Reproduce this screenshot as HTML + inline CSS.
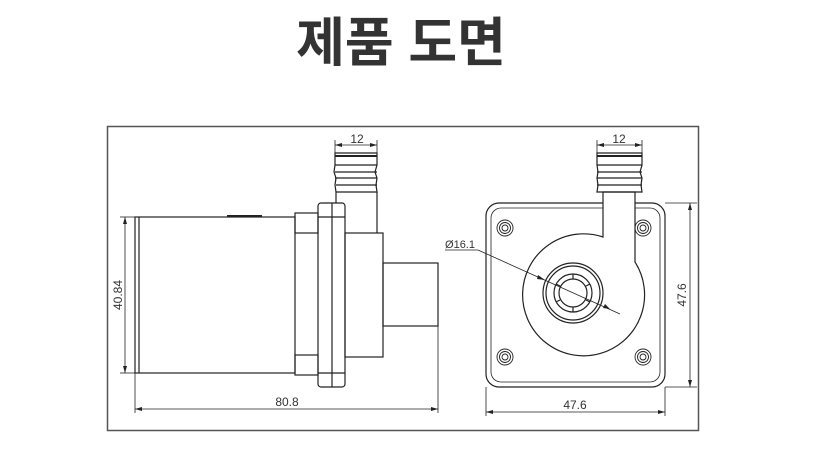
<!DOCTYPE html>
<html><head><meta charset="utf-8"><style>
body{margin:0;background:#fff;width:829px;height:449px;overflow:hidden}
svg{display:block}
</style></head><body>
<svg width="829" height="449" viewBox="0 0 829 449" xmlns="http://www.w3.org/2000/svg">
<text x="401" y="61" text-anchor="middle" font-family="'Liberation Sans','Noto Sans CJK KR',sans-serif" font-size="53" font-weight="bold" fill="#333">제품 도면</text>
<rect x="107.5" y="126.5" width="591" height="304" fill="none" stroke="#555" stroke-width="1.5"/>
<g fill="none" stroke="#222" stroke-width="1.2">
<rect x="135" y="217" width="160" height="156"/>
<line x1="139" y1="217" x2="139" y2="373"/>
<line x1="227" y1="216" x2="262" y2="216" stroke-width="2"/>
<rect x="295" y="213" width="23" height="20"/>
<rect x="295" y="355" width="23" height="20"/>
<rect x="318" y="203" width="27" height="184" rx="3"/>
<line x1="332" y1="203" x2="332" y2="387"/>
<line x1="318" y1="217" x2="345" y2="217"/>
<line x1="318" y1="373" x2="345" y2="373"/>
<rect x="345" y="233" width="38" height="124"/>
<rect x="383" y="263" width="55" height="63"/>
<line x1="336" y1="192" x2="336" y2="203"/>
<line x1="377" y1="192" x2="377" y2="233"/>
<path d="M335 153 H377 V165 L375 172 L377 178 L376 185 L377 192 H336 L335 185 L336 178 L334 172 L335 165 Z"/>
<line x1="335" y1="156" x2="377" y2="156" stroke-width="2"/>
<line x1="335" y1="165" x2="377" y2="165"/>
<line x1="335" y1="172" x2="377" y2="172"/>
<line x1="335" y1="178" x2="377" y2="178"/>
<line x1="336" y1="185" x2="377" y2="185"/>
<g stroke-width="0.8">
<line x1="335" y1="140" x2="335" y2="153"/><line x1="377" y1="140" x2="377" y2="153"/>
<line x1="335" y1="145" x2="377" y2="145"/>
<line x1="120" y1="217" x2="135" y2="217"/><line x1="120" y1="373" x2="135" y2="373"/>
<line x1="125" y1="217" x2="125" y2="373"/>
<line x1="135" y1="373" x2="135" y2="413"/><line x1="438" y1="326" x2="438" y2="413"/>
<line x1="135" y1="409" x2="438" y2="409"/>
</g>
<rect x="486" y="203" width="179" height="184" rx="13"/>
<rect x="491" y="208" width="169" height="174" rx="10" stroke-width="0.8"/>
<g stroke-width="0.9">
<circle cx="505" cy="228" r="8"/><circle cx="505" cy="228" r="5.5"/><circle cx="505" cy="228" r="3"/>
<circle cx="643" cy="228" r="8"/><circle cx="643" cy="228" r="5.5"/><circle cx="643" cy="228" r="3"/>
<circle cx="505" cy="357" r="8"/><circle cx="505" cy="357" r="5.5"/><circle cx="505" cy="357" r="3"/>
<circle cx="643" cy="357" r="8"/><circle cx="643" cy="357" r="5.5"/><circle cx="643" cy="357" r="3"/>
</g>
<path d="M603 237 A61 61 0 1 0 635 262 V192 H603 Z" fill="#fff"/>
<circle cx="573" cy="293" r="30"/><circle cx="573" cy="293" r="27"/>
<circle cx="573" cy="293" r="19"/><circle cx="573" cy="293" r="14"/>
<line x1="573" y1="274" x2="573" y2="279"/><line x1="573" y1="307" x2="573" y2="312"/>
<line x1="556" y1="284" x2="560" y2="286"/><line x1="590" y1="284" x2="586" y2="286"/>
<line x1="556" y1="302" x2="560" y2="300"/><line x1="590" y1="302" x2="586" y2="300"/>
<path d="M597 153 H642 V165 L640 172 L642 178 L641 185 L642 192 H597 L598 185 L597 178 L598 172 L597 165 Z"/>
<line x1="597" y1="156" x2="642" y2="156" stroke-width="2"/>
<line x1="597" y1="165" x2="642" y2="165"/>
<line x1="597" y1="172" x2="642" y2="172"/>
<line x1="597" y1="178" x2="642" y2="178"/>
<line x1="597" y1="185" x2="642" y2="185"/>
<g stroke-width="0.8">
<line x1="597" y1="140" x2="597" y2="153"/><line x1="642" y1="140" x2="642" y2="153"/>
<line x1="597" y1="145" x2="642" y2="145"/>
<line x1="665" y1="203" x2="697" y2="203"/><line x1="665" y1="387" x2="697" y2="387"/>
<line x1="690" y1="203" x2="690" y2="387"/>
<line x1="486" y1="387" x2="486" y2="416"/><line x1="665" y1="387" x2="665" y2="416"/>
<line x1="486" y1="412" x2="665" y2="412"/>
<line x1="445" y1="250" x2="478" y2="250"/>
<line x1="478" y1="250" x2="620" y2="314"/>
</g>
</g>
<g fill="#222">
<path d="M335 145 l7 -2 v4 z M377 145 l-7 -2 v4 z"/>
<path d="M597 145 l7 -2 v4 z M642 145 l-7 -2 v4 z"/>
<path d="M125 217 l-2 7 h4 z M125 373 l-2 -7 h4 z"/>
<path d="M135 409 l7 -2 v4 z M438 409 l-7 -2 v4 z"/>
<path d="M486 412 l7 -2 v4 z M665 412 l-7 -2 v4 z"/>
<path d="M690 203 l-2 7 h4 z M690 387 l-2 -7 h4 z"/>
<path d="M545 280 l-7 -5 l-1 4 z M610 309 l-7 -1 l2 -4 z"/>
</g>
<g font-family="'Liberation Sans',sans-serif" font-size="12" fill="#333" text-anchor="middle">
<text x="357" y="143">12</text>
<text x="619" y="143">12</text>
<text x="287" y="406">80.8</text>
<text x="575" y="409">47.6</text>
<text x="460" y="248" font-size="11">Ø16.1</text>
<text transform="translate(122 295) rotate(-90)">40.84</text>
<text transform="translate(686 295) rotate(-90)">47.6</text>
</g>
</svg>
</body></html>
